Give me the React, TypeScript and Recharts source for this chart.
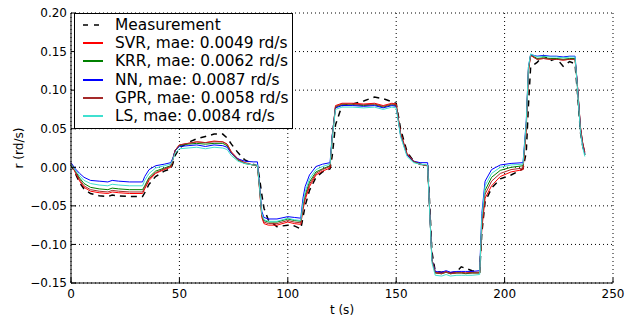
import { LineChart, Line, XAxis, YAxis, CartesianGrid, Legend, Label } from 'recharts';

const time = [
  0, 2, 4, 6, 9, 13, 17, 19, 22, 27, 33,
  34, 36, 39, 43, 46, 47, 48, 50,
  54, 58, 62, 66, 70, 72, 74, 77, 80, 84, 86,
  87, 88, 89, 91, 95, 100, 103, 106,
  107, 108, 110, 113, 116, 119.5,
  120.5, 122, 125, 130, 135, 140, 144, 148, 150,
  152, 155, 158, 161, 164.5,
  165.5, 166.5, 168, 171, 173, 175, 178, 180, 182, 185, 188.5,
  189.5, 191, 194, 198, 203, 208.5,
  210, 211, 212, 215, 218, 221, 224, 227, 230, 232.5, 233.5, 235, 236, 237,
];

const measurement = [
  0.004, -0.008, -0.02, -0.028, -0.034, -0.037, -0.038, -0.036, -0.037, -0.038, -0.038,
  -0.033, -0.022, -0.012, -0.005, -0.002, 0.005, 0.015, 0.025,
  0.032, 0.037, 0.04, 0.043, 0.043, 0.038, 0.03, 0.019, 0.01, 0.004, 0.002,
  -0.015, -0.035, -0.053, -0.068, -0.077, -0.075, -0.076, -0.08,
  -0.065, -0.05, -0.03, -0.013, -0.006, -0.002,
  0.015, 0.055, 0.08, 0.082, 0.086, 0.091, 0.089, 0.085, 0.083,
  0.05, 0.02, 0.008, 0.004, 0.002,
  -0.05, -0.11, -0.135, -0.136, -0.135, -0.137, -0.135, -0.129, -0.131, -0.134, -0.136,
  -0.085, -0.045, -0.027, -0.015, -0.01, -0.002,
  0.02, 0.08, 0.13, 0.136, 0.145, 0.138, 0.141, 0.131, 0.137, 0.134, 0.1, 0.045, 0.028, 0.016,
];

const svr = [
  0.005, -0.007, -0.018, -0.026, -0.031, -0.033, -0.034, -0.032, -0.033, -0.034, -0.034,
  -0.028, -0.017, -0.008, -0.003, 0.0, 0.01, 0.022, 0.029,
  0.031, 0.033, 0.032, 0.034, 0.033, 0.03, 0.02, 0.011, 0.006, 0.003, 0.002,
  -0.03, -0.065, -0.073, -0.075, -0.075, -0.071, -0.073, -0.074,
  -0.055, -0.042, -0.025, -0.01, -0.005, -0.001,
  0.04, 0.08, 0.083, 0.083, 0.082, 0.083, 0.08, 0.083, 0.082,
  0.045, 0.018, 0.008, 0.004, 0.002,
  -0.06, -0.12, -0.136, -0.137, -0.135, -0.137, -0.136, -0.136, -0.137, -0.136, -0.136,
  -0.08, -0.04, -0.024, -0.012, -0.006, -0.003,
  0.05, 0.125, 0.145, 0.14, 0.141, 0.14, 0.14, 0.139, 0.14, 0.14, 0.11, 0.052, 0.032, 0.02,
];

const krr = [
  0.005, -0.005, -0.014, -0.021, -0.026, -0.028, -0.029, -0.027, -0.028, -0.029, -0.029,
  -0.024, -0.013, -0.005, -0.001, 0.002, 0.011, 0.021, 0.028,
  0.03, 0.031, 0.03, 0.031, 0.031, 0.028, 0.018, 0.009, 0.005, 0.003, 0.002,
  -0.027, -0.061, -0.069, -0.071, -0.071, -0.067, -0.069, -0.07,
  -0.05, -0.036, -0.019, -0.006, -0.002, 0.002,
  0.04, 0.078, 0.081, 0.081, 0.08, 0.081, 0.078, 0.081, 0.08,
  0.043, 0.016, 0.007, 0.004, 0.002,
  -0.06, -0.12, -0.137, -0.138, -0.136, -0.138, -0.137, -0.137, -0.138, -0.137, -0.137,
  -0.07, -0.03, -0.013, -0.004, 0.0, 0.002,
  0.055, 0.127, 0.146, 0.141, 0.142, 0.141, 0.141, 0.14, 0.141, 0.141, 0.108, 0.05, 0.03, 0.017,
];

const nn = [
  0.006, -0.002, -0.008, -0.013, -0.017, -0.018, -0.019, -0.017, -0.018, -0.019, -0.019,
  -0.012, -0.003, 0.002, 0.004, 0.006, 0.012, 0.022, 0.027,
  0.028, 0.029, 0.027, 0.029, 0.028, 0.026, 0.018, 0.011, 0.008, 0.007, 0.007,
  -0.025, -0.057, -0.065, -0.067, -0.067, -0.064, -0.065, -0.066,
  -0.04, -0.025, -0.01, 0.001, 0.004, 0.006,
  0.042, 0.077, 0.08, 0.08, 0.079, 0.08, 0.077, 0.08, 0.079,
  0.042, 0.016, 0.008, 0.006, 0.006,
  -0.06, -0.12, -0.135, -0.136, -0.134, -0.136, -0.135, -0.135, -0.135, -0.135, -0.134,
  -0.06, -0.018, -0.003, 0.003, 0.005, 0.006,
  0.06, 0.13, 0.146, 0.144, 0.145, 0.144, 0.144, 0.143, 0.144, 0.144, 0.11, 0.05, 0.03, 0.018,
];

const gpr = [
  0.005, -0.006, -0.016, -0.024, -0.029, -0.031, -0.032, -0.03, -0.031, -0.032, -0.032,
  -0.026, -0.015, -0.007, -0.002, 0.001, 0.01, 0.022, 0.029,
  0.031, 0.033, 0.032, 0.033, 0.033, 0.03, 0.019, 0.01, 0.006, 0.003, 0.002,
  -0.028, -0.063, -0.071, -0.073, -0.073, -0.069, -0.071, -0.072,
  -0.052, -0.039, -0.022, -0.008, -0.003, 0.001,
  0.04, 0.079, 0.082, 0.082, 0.081, 0.082, 0.079, 0.082, 0.081,
  0.044, 0.017, 0.008, 0.004, 0.002,
  -0.06, -0.12, -0.137, -0.138, -0.136, -0.138, -0.137, -0.137, -0.137, -0.137, -0.137,
  -0.075, -0.035, -0.018, -0.008, -0.003, -0.001,
  0.052, 0.126, 0.145, 0.14, 0.141, 0.14, 0.14, 0.139, 0.14, 0.14, 0.11, 0.052, 0.032, 0.019,
];

const ls = [
  0.004, -0.004, -0.011, -0.017, -0.021, -0.023, -0.024, -0.022, -0.023, -0.024, -0.024,
  -0.017, -0.008, -0.001, 0.002, 0.004, 0.01, 0.018, 0.024,
  0.025, 0.026, 0.024, 0.026, 0.025, 0.023, 0.015, 0.008, 0.005, 0.003, 0.003,
  -0.027, -0.06, -0.068, -0.07, -0.07, -0.066, -0.068, -0.069,
  -0.046, -0.032, -0.015, -0.003, 0.001, 0.004,
  0.038, 0.075, 0.078, 0.078, 0.077, 0.078, 0.075, 0.078, 0.077,
  0.04, 0.014, 0.006, 0.004, 0.003,
  -0.062, -0.124, -0.14, -0.141, -0.139, -0.141, -0.14, -0.14, -0.14, -0.14, -0.139,
  -0.065, -0.024, -0.008, 0.0, 0.003, 0.004,
  0.058, 0.13, 0.147, 0.143, 0.144, 0.143, 0.143, 0.142, 0.143, 0.143, 0.106, 0.046, 0.026, 0.014,
];

const xTicks = [0, 50, 100, 150, 200, 250];
const yTicks = [-0.15, -0.1, -0.05, 0, 0.05, 0.1, 0.15, 0.2];

type SeriesConfig = {
  dataKey: string;
  name: string;
  color: string;
  width: number;
  dash?: string;
};

const series: SeriesConfig[] = [
  { dataKey: 'meas', name: 'Measurement', color: '#000000', width: 1.5, dash: '6 5' },
  { dataKey: 'svr', name: 'SVR, mae: 0.0049 rd/s', color: '#ff0000', width: 1 },
  { dataKey: 'krr', name: 'KRR, mae: 0.0062 rd/s', color: '#008000', width: 1 },
  { dataKey: 'nn', name: 'NN, mae: 0.0087 rd/s', color: '#0000ff', width: 1 },
  { dataKey: 'gpr', name: 'GPR, mae: 0.0058 rd/s', color: '#a52a2a', width: 1 },
  { dataKey: 'ls', name: 'LS, mae: 0.0084 rd/s', color: '#40e0d0', width: 1 },
];

const data = time.map((t, i) => ({
  t,
  meas: measurement[i],
  svr: svr[i],
  krr: krr[i],
  nn: nn[i],
  gpr: gpr[i],
  ls: ls[i],
}));

const FONT = '"DejaVu Sans", sans-serif';

const fmtY = (v: number) => v.toFixed(2).replace('-', '\u2212');

// matplotlib-style ticks: labels outside, tick marks pointing into the plot
const BottomTick = ({ x, y, payload }: any) => (
  <g>
    <line x1={x} x2={x} y1={y - 6} y2={y - 11} stroke="#000" />
    <text x={x} y={y} dy="0.71em" textAnchor="middle" fontSize={12} fontFamily={FONT} fill="#000">
      {payload.value}
    </text>
  </g>
);

const LeftTick = ({ x, y, payload }: any) => (
  <g>
    <line x1={x + 4} x2={x + 9} y1={y} y2={y} stroke="#000" />
    <text x={x} y={y} dy="0.36em" textAnchor="end" fontSize={12} fontFamily={FONT} fill="#000">
      {fmtY(payload.value)}
    </text>
  </g>
);

const TopTick = ({ x, y }: any) => <line x1={x} x2={x} y1={y} y2={y + 5} stroke="#000" />;

const RightTick = ({ x, y }: any) => <line x1={x} x2={x - 5} y1={y} y2={y} stroke="#000" />;

const renderLegend = () => (
  <div
    style={{
      width: 219,
      boxSizing: 'border-box',
      border: '1px solid #000',
      background: '#fff',
      padding: '2px 0 3px 0',
      fontFamily: FONT,
      fontSize: 15.4,
    }}
  >
    {series.map((s) => (
      <div key={s.dataKey} style={{ display: 'flex', alignItems: 'center', height: 18.2 }}>
        <svg width={40} height={10} style={{ flex: 'none' }}>
          <line
            x1={8}
            x2={28}
            y1={5}
            y2={5}
            stroke={s.color}
            strokeWidth={s.dash ? 1.5 : 2}
            strokeDasharray={s.dash ? '5 6' : undefined}
          />
        </svg>
        <span style={{ whiteSpace: 'nowrap', color: '#000' }}>{s.name}</span>
      </div>
    ))}
  </div>
);

export default function App() {
  return (
    <div style={{ position: 'absolute', left: 0, top: 0, fontFamily: FONT }}>
      <LineChart width={632} height={322} data={data} margin={{ top: 13, right: 19, bottom: 0, left: 0 }}>
        <CartesianGrid stroke="#000" strokeDasharray="1 3" />
        <XAxis
          dataKey="t"
          type="number"
          domain={[0, 250]}
          ticks={xTicks}
          interval={0}
          height={39}
          tickSize={0}
          tickMargin={6}
          tickLine={false}
          axisLine={{ stroke: '#000' }}
          tick={BottomTick}
        >
          <Label
            value="t (s)"
            position="insideBottom"
            offset={8}
            style={{ fontFamily: FONT, fontSize: 12, fill: '#000' }}
          />
        </XAxis>
        <XAxis
          xAxisId="top"
          orientation="top"
          type="number"
          domain={[0, 250]}
          ticks={xTicks}
          interval={0}
          height={0}
          tickSize={0}
          tickLine={false}
          axisLine={{ stroke: '#000' }}
          tick={TopTick}
        />
        <YAxis
          type="number"
          domain={[-0.15, 0.2]}
          ticks={yTicks}
          interval={0}
          width={71}
          tickSize={0}
          tickMargin={4}
          tickLine={false}
          axisLine={{ stroke: '#000' }}
          tick={LeftTick}
        >
          <Label
            value="r (rd/s)"
            angle={-90}
            position="insideLeft"
            offset={19}
            style={{ fontFamily: FONT, fontSize: 12, fill: '#000', textAnchor: 'middle' }}
          />
        </YAxis>
        <YAxis
          yAxisId="right"
          orientation="right"
          type="number"
          domain={[-0.15, 0.2]}
          ticks={yTicks}
          interval={0}
          width={0}
          tickSize={0}
          tickLine={false}
          axisLine={{ stroke: '#000' }}
          tick={RightTick}
        />
        <Legend
          layout="vertical"
          align="center"
          verticalAlign="middle"
          content={renderLegend}
          wrapperStyle={{ left: 74, top: 13, width: 219 }}
        />
        {series.map((s) => (
          <Line
            key={s.dataKey}
            type="linear"
            dataKey={s.dataKey}
            name={s.name}
            stroke={s.color}
            strokeWidth={s.width}
            strokeDasharray={s.dash}
            dot={false}
            activeDot={false}
            isAnimationActive={false}
          />
        ))}
      </LineChart>
    </div>
  );
}
